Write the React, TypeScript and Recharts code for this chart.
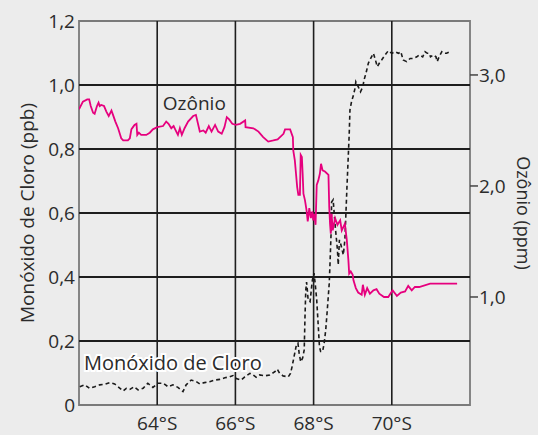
import {
  LineChart,
  Line,
  XAxis,
  YAxis,
  ReferenceLine,
  ReferenceArea,
  ReferenceDot
} from "recharts"

// latitude (°S) and ozone (ppm), right axis
const ozoneLat = [
  62.0, 62.1, 62.21, 62.26, 62.3, 62.36, 62.4, 62.46, 62.5, 62.53, 62.57, 62.64, 62.7, 62.76, 62.83, 62.87,
  62.93, 63.0, 63.08, 63.13, 63.25, 63.3, 63.34, 63.38, 63.42, 63.47, 63.49, 63.53, 63.59, 63.72, 63.81, 63.89,
  64.0, 64.15, 64.23, 64.29, 64.36, 64.42, 64.46, 64.53, 64.58, 64.63, 64.7, 64.79, 64.92, 64.99, 65.09, 65.18,
  65.24, 65.32, 65.39, 65.48, 65.56, 65.65, 65.72, 65.78, 65.84, 65.92, 66.01, 66.12, 66.25, 66.26, 66.46, 66.59,
  66.71, 66.84, 66.97, 67.08, 67.23, 67.27, 67.4, 67.47, 67.48, 67.52, 67.55, 67.58, 67.61, 67.65, 67.67, 67.7,
  67.72, 67.74, 67.78, 67.82, 67.85, 67.89, 67.93, 67.97, 67.99, 68.02, 68.05, 68.08, 68.12, 68.16, 68.19, 68.23,
  68.29, 68.38, 68.4, 68.42, 68.44, 68.46, 68.49, 68.55, 68.61, 68.68, 68.72, 68.76, 68.8, 68.85, 68.89, 68.91,
  68.95, 69.0, 69.02, 69.08, 69.14, 69.23, 69.26, 69.31, 69.37, 69.44, 69.53, 69.61, 69.68, 69.8, 69.91, 70.02,
  70.13, 70.23, 70.34, 70.42, 70.51, 70.59, 70.7, 70.98, 71.36, 71.67
]
const ozonePpm = [
  2.69, 2.76, 2.78, 2.78, 2.72, 2.66, 2.65, 2.72, 2.75, 2.72, 2.73, 2.72, 2.67, 2.63, 2.68, 2.64,
  2.58, 2.52, 2.43, 2.41, 2.41, 2.43, 2.51, 2.53, 2.55, 2.56, 2.46, 2.48, 2.46, 2.46, 2.48, 2.51,
  2.53, 2.54, 2.58, 2.56, 2.52, 2.54, 2.51, 2.46, 2.52, 2.46, 2.52, 2.58, 2.63, 2.64, 2.49, 2.5,
  2.48, 2.54, 2.49, 2.55, 2.49, 2.47, 2.53, 2.62, 2.6, 2.56, 2.55, 2.56, 2.59, 2.53, 2.52, 2.49,
  2.44, 2.4, 2.41, 2.42, 2.47, 2.51, 2.51, 2.44, 2.32, 2.23, 2.11, 1.99, 1.92, 1.92, 2.28, 2.26,
  2.11, 1.93, 1.87, 1.78, 1.68, 1.8, 1.71, 1.77, 1.69, 1.75, 1.65, 2.01, 2.05, 2.11, 2.2, 2.14,
  2.13, 2.1, 1.81, 1.66, 1.57, 1.75, 1.6, 1.71, 1.65, 1.69, 1.6, 1.63, 1.66, 1.51, 1.33, 1.21,
  1.23, 1.2, 1.15, 1.08, 1.04, 1.02, 1.11, 1.02, 1.08, 1.03, 1.06, 1.07, 1.03, 1.0, 1.0, 1.06,
  1.01, 1.04, 1.05, 1.1, 1.06, 1.09, 1.09, 1.12, 1.12, 1.12
]

// latitude (°S) and chlorine monoxide (ppb), left axis
const cloLat = [
  62.02, 62.15, 62.27, 62.4, 62.53, 62.66, 62.79, 62.91, 63.0, 63.13, 63.21, 63.3, 63.41, 63.51, 63.64, 63.76,
  63.89, 64.02, 64.15, 64.28, 64.4, 64.53, 64.66, 64.74, 64.87, 65.0, 65.09, 65.21, 65.34, 65.47, 65.6, 65.73,
  65.85, 65.94, 66.02, 66.15, 66.24, 66.37, 66.45, 66.53, 66.62, 66.75, 66.88, 67.01, 67.07, 67.13, 67.22, 67.35,
  67.41, 67.45, 67.5, 67.56, 67.6, 67.63, 67.67, 67.72, 67.76, 67.78, 67.8, 67.82, 67.84, 67.86, 67.91, 67.95,
  67.97, 68.01, 68.04, 68.08, 68.12, 68.15, 68.18, 68.23, 68.27, 68.31, 68.35, 68.4, 68.42, 68.45, 68.46, 68.5,
  68.55, 68.61, 68.63, 68.66, 68.7, 68.76, 68.8, 68.85, 68.91, 68.93, 68.97, 69.02, 69.06, 69.08, 69.14, 69.2,
  69.26, 69.29, 69.34, 69.4, 69.46, 69.53, 69.57, 69.63, 69.68, 69.74, 69.83, 69.91, 70.0, 70.08, 70.17, 70.23,
  70.29, 70.38, 70.47, 70.55, 70.64, 70.7, 70.79, 70.85, 70.91, 70.96, 70.99, 71.06, 71.13, 71.16, 71.21, 71.28,
  71.34, 71.4, 71.49
]
const cloPpb = [
  0.057, 0.063, 0.052, 0.057, 0.063, 0.065, 0.07, 0.066, 0.057, 0.044, 0.052, 0.049, 0.057, 0.047, 0.052, 0.068,
  0.055, 0.068, 0.068, 0.057, 0.063, 0.055, 0.042, 0.063, 0.078, 0.073, 0.066, 0.07, 0.073, 0.078, 0.08, 0.085,
  0.088, 0.092, 0.083, 0.078, 0.088, 0.099, 0.094, 0.087, 0.094, 0.091, 0.094, 0.104, 0.112, 0.099, 0.091, 0.088,
  0.099, 0.12, 0.151, 0.188, 0.193, 0.162, 0.135, 0.147, 0.172, 0.276, 0.359, 0.384, 0.359, 0.328, 0.323, 0.37,
  0.391, 0.412, 0.38, 0.328, 0.245, 0.182, 0.167, 0.167, 0.193, 0.234, 0.297, 0.38, 0.443, 0.547, 0.634, 0.641,
  0.563, 0.484, 0.438, 0.516, 0.5, 0.469, 0.516, 0.672, 0.844, 0.922, 0.948, 0.969, 0.99, 1.01, 0.995, 0.979,
  0.995, 1.016, 1.037, 1.068, 1.083, 1.099, 1.083, 1.057, 1.068, 1.078, 1.094, 1.107, 1.099, 1.104, 1.099, 1.104,
  1.078, 1.073, 1.083, 1.083, 1.088, 1.094, 1.088, 1.104, 1.099, 1.099, 1.088, 1.094, 1.088, 1.073, 1.088, 1.104,
  1.099, 1.099, 1.104
]

const latTicks = [64, 66, 68, 70]
const ppbTicks = [0, 0.2, 0.4, 0.6, 0.8, 1.0, 1.2]
const ppbGrid = [0.2, 0.4, 0.6, 0.8, 1.0]
const ppmTicks = [1, 2, 3]

const ozoneData = ozoneLat.map((lat, i) => ({ lat, ppm: ozonePpm[i] }))
const cloData = cloLat.map((lat, i) => ({ lat, ppb: cloPpb[i] }))

const font = "'Open Sans', sans-serif"
const textColor = "#2b2b2b"

const comma = (v: number) => (v === 0 ? "0" : v.toFixed(1).replace(".", ","))

export default function App() {
  return (
    <div
      style={{
        position: "absolute",
        left: 0,
        top: 0,
        width: 538,
        height: 435,
        background: "#ececec",
        fontFamily: font
      }}
    >
      <LineChart
        width={538}
        height={435}
        margin={{ top: 21, right: 0, bottom: 0, left: 0 }}
      >
        <XAxis
          type="number"
          dataKey="lat"
          domain={[62, 72]}
          ticks={latTicks}
          tickFormatter={(v) => `${v}°S`}
          tickLine={false}
          axisLine={false}
          tickSize={0}
          tickMargin={12}
          height={30}
          tick={{ fill: textColor, fontSize: 19, fontFamily: font }}
          allowDataOverflow
        />

        <YAxis
          yAxisId="ppb"
          type="number"
          domain={[0, 1.2]}
          ticks={ppbTicks}
          tickFormatter={comma}
          tickLine={false}
          axisLine={false}
          tickSize={2}
          tickMargin={2}
          width={79}
          tick={{ fill: textColor, fontSize: 19, fontFamily: font }}
          label={{
            value: "Monóxido de Cloro (ppb)",
            angle: -90,
            position: "center",
            dx: -12,
            fill: textColor,
            fontSize: 19,
            fontFamily: font
          }}
        />

        <YAxis
          yAxisId="ppm"
          orientation="right"
          type="number"
          domain={[0.027, 3.486]}
          ticks={ppmTicks}
          tickFormatter={comma}
          tickLine={{ stroke: "#444", strokeWidth: 1.5 }}
          axisLine={false}
          tickSize={8}
          tickMargin={1}
          width={68}
          allowDataOverflow
          tick={{ fill: textColor, fontSize: 19, fontFamily: font }}
          label={{
            value: "Ozônio (ppm)",
            angle: 90,
            position: "center",
            dx: 19,
            fill: textColor,
            fontSize: 18,
            fontFamily: font
          }}
        />

        {ppbGrid.map((v) => (
          <ReferenceLine key={"h" + v} yAxisId="ppb" y={v} stroke="#1e1e1e" strokeWidth={2} />
        ))}

        {latTicks.map((v) => (
          <ReferenceLine key={"v" + v} yAxisId="ppb" x={v} stroke="#1e1e1e" strokeWidth={1.6} />
        ))}

        <ReferenceArea
          yAxisId="ppb"
          x1={62}
          x2={72}
          y1={0}
          y2={1.2}
          fill="none"
          stroke="#7a7a7a"
          strokeWidth={1.8}
        />

        <Line
          yAxisId="ppb"
          data={cloData}
          dataKey="ppb"
          type="linear"
          stroke="#1a1a1a"
          strokeWidth={1.6}
          strokeDasharray="4 3"
          dot={false}
          isAnimationActive={false}
        />

        <Line
          yAxisId="ppm"
          data={ozoneData}
          dataKey="ppm"
          type="linear"
          stroke="#e6007e"
          strokeWidth={1.8}
          dot={false}
          isAnimationActive={false}
        />

        <ReferenceDot
          yAxisId="ppb"
          x={64.95}
          y={0.944}
          r={0}
          fill="none"
          stroke="none"
          label={{ value: "Ozônio", position: "center", fill: textColor, fontSize: 19, fontFamily: font }}
        />

        <ReferenceDot
          yAxisId="ppb"
          x={64.4}
          y={0.131}
          r={0}
          fill="none"
          stroke="none"
          label={{
            value: "Monóxido de Cloro",
            position: "center",
            fill: textColor,
            fontSize: 20,
            fontFamily: font,
            stroke: "#ffffff",
            strokeWidth: 4,
            paintOrder: "stroke"
          }}
        />
      </LineChart>
    </div>
  )
}
